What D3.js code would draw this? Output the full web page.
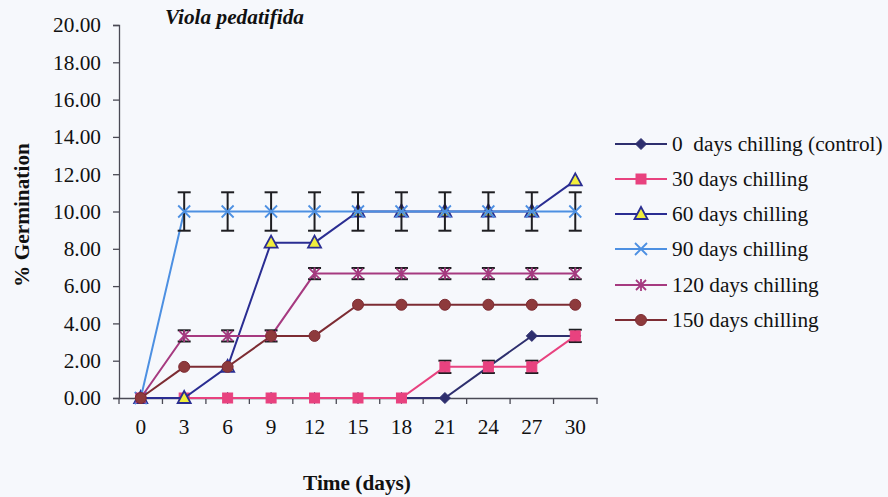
<!DOCTYPE html>
<html><head><meta charset="utf-8">
<script src="https://cdn.jsdelivr.net/npm/d3@7"></script>
<style>
html,body{margin:0;padding:0;background:#f6f8fc;}
svg{display:block;font-family:"Liberation Serif","Times New Roman",serif;}
</style></head>
<body><svg id="c" width="888" height="497"></svg>
<script>
const days = [0,3,6,9,12,15,18,21,24,27,30];
const yTicks = [0,2,4,6,8,10,12,14,16,18,20];
const seriesNames = ["0  days chilling (control)","30 days chilling","60 days chilling","90 days chilling","120 days chilling","150 days chilling"];
const control = [0,0,0,0,0,0,0,0,1.67,3.33,3.33];
const chill30 = [0,0,0,0,0,0,0,1.67,1.67,1.67,3.33];
const chill60 = [0,0,1.67,8.33,8.33,10,10,10,10,10,11.67];
const chill90 = [0,10,10,10,10,10,10,10,10,10,10];
const chill120 = [0,3.33,3.33,3.33,6.67,6.67,6.67,6.67,6.67,6.67,6.67];
const chill150 = [0,1.67,1.67,3.33,3.33,5,5,5,5,5,5];
const err30 = [0,0,0,0,0,0,0,0.33,0.33,0.33,0.33];
const err90 = [0,1.03,1.03,1.03,1.03,1.03,1.03,1.03,1.03,1.03,1.03];
const err120 = [0,0.3,0.3,0.3,0.3,0.3,0.3,0.3,0.3,0.3,0.3];

const series = [
  {name:seriesNames[0], vals:control, err:null, color:"#2e2f6e", marker:"diamond", fill:"#2e2f6e"},
  {name:seriesNames[1], vals:chill30, err:err30, color:"#e8427f", marker:"square", fill:"#e8427f"},
  {name:seriesNames[2], vals:chill60, err:null, color:"#2a2d92", marker:"triangle", fill:"#f1ee3c"},
  {name:seriesNames[3], vals:chill90, err:err90, color:"#4d90e2", marker:"x", fill:"none"},
  {name:seriesNames[4], vals:chill120, err:err120, color:"#a63a80", marker:"star", fill:"none"},
  {name:seriesNames[5], vals:chill150, err:null, color:"#7d2c33", marker:"circle", fill:"#8e3a3c"}
];

const svg = d3.select("#c");
const x = d3.scaleBand().domain(days).range([119,597]).paddingInner(0).paddingOuter(0);
const y = d3.scaleLinear().domain([0,20]).range([398,25]);
const cx = d => x(d) + x.bandwidth()/2;
const axisColor = "#4a4a55";
const fs = 21.3;

// Y axis
const yAxis = svg.append("g").attr("transform","translate(119,0)")
  .call(d3.axisLeft(y).tickValues(yTicks).tickFormat(d3.format(".2f")).tickSize(6).tickPadding(12));
yAxis.select(".domain").attr("stroke",axisColor).attr("stroke-width",1.3);
yAxis.selectAll(".tick line").attr("stroke",axisColor).attr("stroke-width",1.3);
yAxis.selectAll("text").attr("font-size",fs).attr("font-family","Liberation Serif").attr("fill","#111");

// X axis (labels at band centers, ticks at boundaries)
const xAxis = svg.append("g").attr("transform","translate(0,398)")
  .call(d3.axisBottom(x).tickSize(0).tickPadding(21).tickSizeOuter(0));
xAxis.select(".domain").attr("stroke",axisColor).attr("stroke-width",1.3);
xAxis.selectAll("text").attr("font-size",fs).attr("font-family","Liberation Serif").attr("fill","#111");
const bounds = days.map(d=>x(d)).concat([x(days[days.length-1])+x.bandwidth()]);
xAxis.selectAll("line.bt").data(bounds).enter().append("line").attr("class","bt")
  .attr("x1",d=>d).attr("x2",d=>d).attr("y1",0).attr("y2",6)
  .attr("stroke",axisColor).attr("stroke-width",1.3);

// Titles
svg.append("text").attr("x",165).attr("y",24).attr("font-size",fs).attr("font-weight","bold")
  .attr("font-style","italic").attr("fill","#111").text("Viola pedatifida");
svg.append("text").attr("transform","translate(29,215) rotate(-90)").attr("text-anchor","middle")
  .attr("font-size",fs).attr("font-weight","bold").attr("fill","#111").text("% Germination");
svg.append("text").attr("x",357).attr("y",490).attr("text-anchor","middle")
  .attr("font-size",fs).attr("font-weight","bold").attr("fill","#111").text("Time (days)");

function drawMarker(g, type, color, fill, px, py){
  const s = 5.5;
  if(type==="diamond"){
    g.append("path").attr("d",`M${px},${py-s}L${px+s},${py}L${px},${py+s}L${px-s},${py}Z`).attr("fill",fill).attr("stroke",color).attr("stroke-width",1);
  } else if(type==="square"){
    g.append("rect").attr("x",px-5).attr("y",py-5).attr("width",10).attr("height",10).attr("fill",fill).attr("stroke",color).attr("stroke-width",1);
  } else if(type==="triangle"){
    g.append("path").attr("d",`M${px},${py-7}L${px+6.5},${py+5}L${px-6.5},${py+5}Z`).attr("fill",fill).attr("stroke",color).attr("stroke-width",1.8);
  } else if(type==="x"){
    g.append("path").attr("d",`M${px-6},${py-6}L${px+6},${py+6}M${px-6},${py+6}L${px+6},${py-6}`).attr("stroke",color).attr("stroke-width",1.8).attr("fill","none");
  } else if(type==="star"){
    g.append("path").attr("d",`M${px-5},${py-5}L${px+5},${py+5}M${px-5},${py+5}L${px+5},${py-5}M${px},${py-6}L${px},${py+6}`).attr("stroke",color).attr("stroke-width",1.8).attr("fill","none");
  } else if(type==="circle"){
    g.append("circle").attr("cx",px).attr("cy",py).attr("r",5.5).attr("fill",fill).attr("stroke",color).attr("stroke-width",1);
  }
}

const line = d3.line().x((d,i)=>cx(days[i])).y(d=>y(d));
series.forEach(s=>{
  const g = svg.append("g");
  g.append("path").datum(s.vals).attr("d",line).attr("fill","none").attr("stroke",s.color).attr("stroke-width",2);
  if(s.err){
    s.vals.forEach((v,i)=>{
      const e = s.err[i]; if(!e) return;
      const px = cx(days[i]);
      const eg = g.append("g").attr("stroke","#1e1e22").attr("stroke-width",2);
      eg.append("line").attr("x1",px).attr("x2",px).attr("y1",y(v+e)).attr("y2",y(v-e));
      eg.append("line").attr("x1",px-6.5).attr("x2",px+6.5).attr("y1",y(v+e)).attr("y2",y(v+e));
      eg.append("line").attr("x1",px-6.5).attr("x2",px+6.5).attr("y1",y(v-e)).attr("y2",y(v-e));
    });
  }
  s.vals.forEach((v,i)=>drawMarker(g, s.marker, s.color, s.fill, cx(days[i]), y(v)));
});

// Legend
const legY = [144,179,214,249,285,320];
series.forEach((s,i)=>{
  const g = svg.append("g");
  const ly = legY[i];
  g.append("line").attr("x1",615).attr("x2",667).attr("y1",ly).attr("y2",ly).attr("stroke",s.color).attr("stroke-width",2);
  drawMarker(g, s.marker, s.color, s.fill, 641, ly);
  g.append("text").attr("x",672).attr("y",ly+7).attr("font-size",fs).attr("fill","#111").attr("xml:space","preserve").style("white-space","pre").text(s.name);
});
</script></body></html>
